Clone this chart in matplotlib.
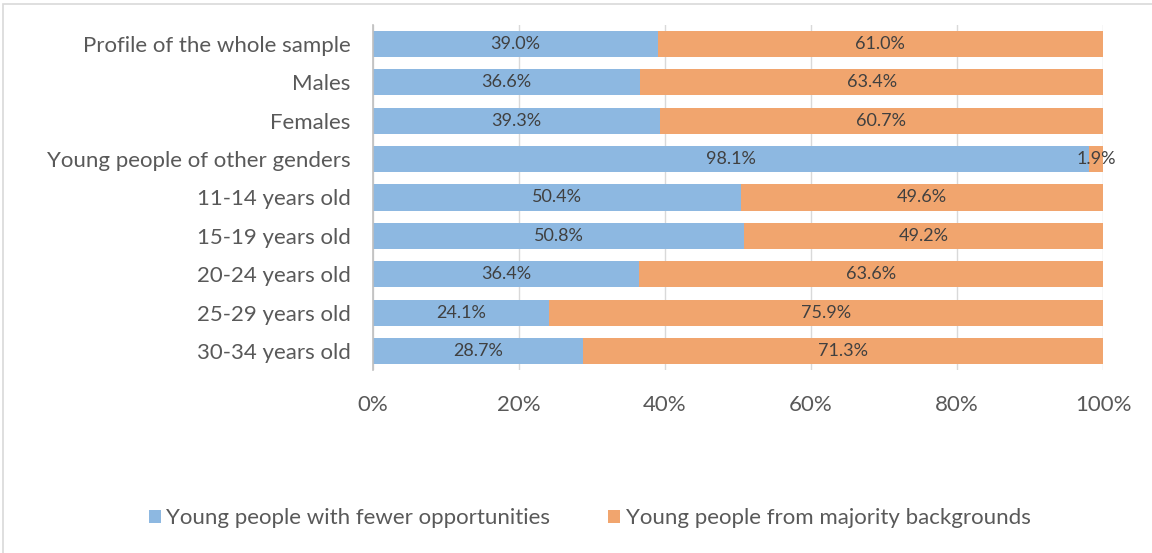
import matplotlib.pyplot as plt
from matplotlib.patches import Rectangle

categories = [
    "Profile of the whole sample",
    "Males",
    "Females",
    "Young people of other genders",
    "11-14 years old",
    "15-19 years old",
    "20-24 years old",
    "25-29 years old",
    "30-34 years old",
]
fewer = [39.0, 36.6, 39.3, 98.1, 50.4, 50.8, 36.4, 24.1, 28.7]
majority = [61.0, 63.4, 60.7, 1.9, 49.6, 49.2, 63.6, 75.9, 71.3]
series_names = ["Young people with fewer opportunities",
                "Young people from majority backgrounds"]
x_ticks = [0, 20, 40, 60, 80, 100]

BLUE = "#8DB8E1"
ORANGE = "#F1A56E"
TEXT = "#595959"
LABEL = "#404040"

plt.rcParams["font.family"] = ["Lato", "DejaVu Sans"]


def main():
    fig = plt.figure(figsize=(11.52, 5.53), dpi=100)
    ax = fig.add_axes([0.3238, 0.3306, 0.6337, 0.6246])

    y = list(range(len(categories)))
    b1 = ax.barh(y, fewer, height=0.68, color=BLUE, label=series_names[0], zorder=2)
    b2 = ax.barh(y, majority, left=fewer, height=0.68, color=ORANGE,
                 label=series_names[1], zorder=2)

    for bars, vals in ((b1, fewer), (b2, majority)):
        for rect, v in zip(bars, vals):
            cx = rect.get_x() + rect.get_width() / 2
            cy = rect.get_y() + rect.get_height() / 2
            ax.text(cx, cy, f"{v:.1f}%", ha="center", va="center",
                    fontsize=13, color=LABEL, zorder=3)

    ax.set_ylim(len(categories) - 0.5, -0.5)
    ax.set_xlim(0, 100)
    ax.set_yticks(y)
    ax.set_yticklabels(categories, fontsize=16, color=TEXT)
    ax.set_xticks(x_ticks)
    ax.set_xticklabels([f"{t}%" for t in x_ticks], fontsize=16, color=TEXT)
    ax.tick_params(axis="y", length=0, pad=16)
    ax.tick_params(axis="x", length=0, pad=18)

    ax.grid(True, axis="x", color="#D9D9D9", linewidth=1, zorder=0)
    for s in ("top", "right", "bottom"):
        ax.spines[s].set_visible(False)
    ax.spines["left"].set_color("#BFBFBF")
    ax.spines["left"].set_linewidth(1.2)

    fig.legend(handles=[b1, b2], labels=series_names, loc="center",
               bbox_to_anchor=(0.512, 0.063), ncol=2, frameon=False,
               fontsize=16, handlelength=0.55, handleheight=0.55,
               handletextpad=0.25, columnspacing=2.6, labelcolor=TEXT)

    fig.patches.append(Rectangle((0.003, -0.01), 1.0, 1.002, transform=fig.transFigure,
                                 fill=False, edgecolor="#D9D9D9", linewidth=1.2))

    plt.savefig("out.png", dpi=100)


if __name__ == "__main__":
    main()
